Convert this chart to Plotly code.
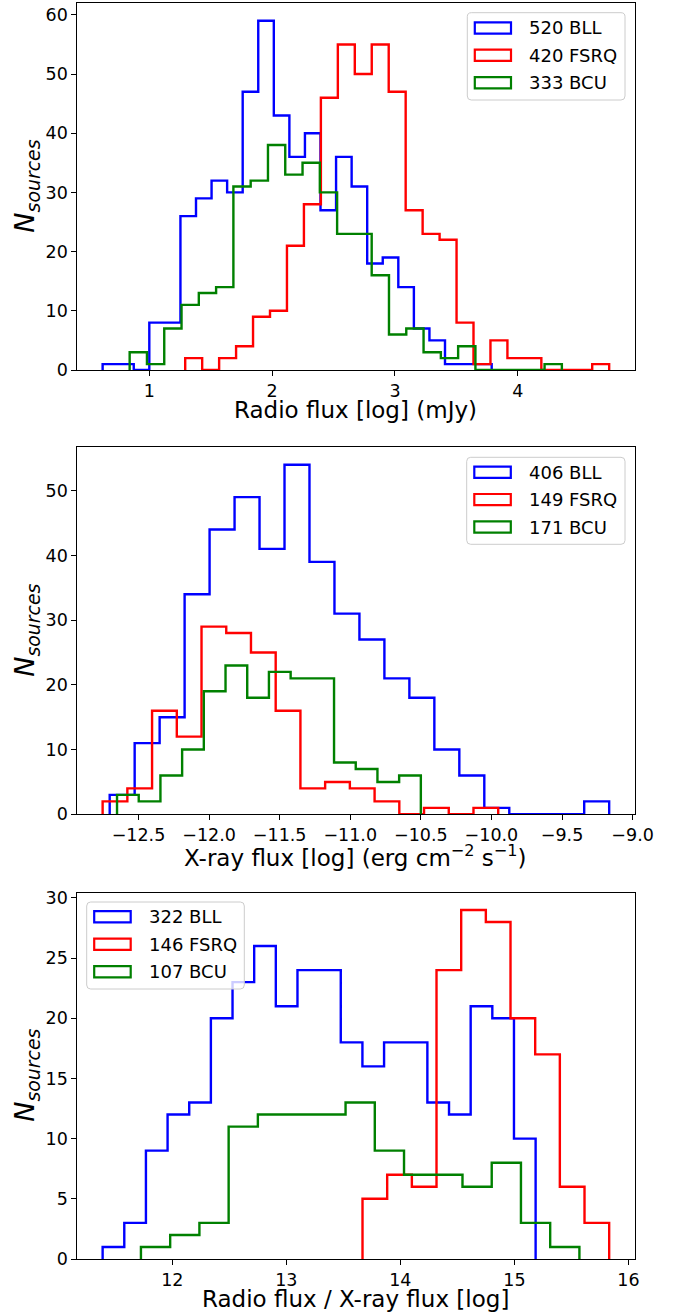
import numpy as np
import plotly.graph_objects as go

W, H = 681, 1315

# ---------------- data (counts per bin, and first/last bin edge) ----------------
series_names = ["BLL", "FSRQ", "BCU"]
series_colors = ["#0000ff", "#ff0000", "#008000"]

# Panel 1: radio flux
radio_bll_counts = [1, 1, 0, 8, 8, 26, 29, 32, 30, 47, 59, 43, 36, 40, 27, 36, 31, 18, 19, 14, 7, 5, 1, 1, 1]
radio_bll_range = (0.621, 3.787)
radio_fsrq_counts = [2, 0, 2, 4, 9, 10, 21, 28, 46, 55, 50, 55, 47, 27, 23, 22, 8, 1, 5, 2, 2, 0, 0, 0, 1]
radio_fsrq_range = (1.293, 4.743)
radio_bcu_counts = [3, 1, 7, 11, 13, 14, 31, 32, 38, 33, 35, 30, 23, 23, 16, 6, 7, 3, 2, 4, 0, 0, 0, 0, 1]
radio_bcu_range = (0.841, 4.358)
radio_legend = ["520 BLL", "420 FSRQ", "333 BCU"]

# Panel 2: X-ray flux
xray_bll_counts = [3, 11, 15, 34, 44, 49, 41, 54, 39, 31, 27, 21, 18, 10, 6, 1, 0, 0, 0, 2]
xray_bll_range = (-12.704, -9.166)
xray_fsrq_counts = [2, 4, 16, 12, 29, 28, 25, 16, 4, 5, 4, 2, 0, 1, 0, 1]
xray_fsrq_range = (-12.754, -9.952)
xray_bcu_counts = [3, 2, 6, 10, 19, 23, 18, 22, 21, 21, 8, 7, 5, 6]
xray_bcu_range = (-12.652, -10.500)
xray_legend = ["406 BLL", "149 FSRQ", "171 BCU"]

# Panel 3: radio / X-ray ratio
ratio_bll_counts = [1, 3, 9, 12, 13, 20, 23, 26, 21, 24, 24, 18, 16, 18, 18, 13, 12, 21, 20, 10]
ratio_bll_range = (11.389, 15.186)
ratio_fsrq_counts = [5, 7, 6, 24, 29, 28, 20, 17, 6, 3]
ratio_fsrq_range = (13.668, 15.831)
ratio_bcu_counts = [1, 2, 3, 11, 12, 12, 12, 13, 9, 7, 7, 6, 8, 3, 1]
ratio_bcu_range = (11.725, 15.570)
ratio_legend = ["322 BLL", "146 FSRQ", "107 BCU"]

x_titles = ["Radio flux [log] (mJy)",
            "X-ray flux [log] (erg cm<sup>\u22122</sup> s<sup>\u22121</sup>)",
            "Radio flux / X-ray flux [log]"]
y_title = "<i>N</i><sub><i>sources</i></sub>"

# ---------------- layout geometry (pixels) ----------------
FONT = "DejaVu Sans"
AX_L, AX_R = 77.3, 634.5
panels_px = [(3.3, 370.0), (447.3, 814.3), (892.5, 1259.0)]  # (top, bottom)
x_title_offset = [40.0, 41.5, 40.0]
x_dticks = [1, 0.5, 1]
x_formats = ["d", ".1f", "d"]
y_dticks = [10, 10, 5]
legend_px = [
    dict(box=(467.3, 12.7, 625.0, 100.0), patch_x=(474.8, 511.0), text_x=527.3, rows=(28.0, 55.3, 82.7)),
    dict(box=(466.7, 457.3, 625.0, 544.3), patch_x=(474.3, 510.8), text_x=527.3, rows=(472.3, 499.6, 527.0)),
    dict(box=(86.7, 902.0, 244.3, 989.0), patch_x=(94.2, 130.7), text_x=146.7, rows=(916.7, 944.2, 971.7)),
]


def px(xp):
    return xp / W


def py(yp):
    return 1 - yp / H


panels = [
    ([radio_bll_counts, radio_fsrq_counts, radio_bcu_counts],
     [radio_bll_range, radio_fsrq_range, radio_bcu_range], radio_legend),
    ([xray_bll_counts, xray_fsrq_counts, xray_bcu_counts],
     [xray_bll_range, xray_fsrq_range, xray_bcu_range], xray_legend),
    ([ratio_bll_counts, ratio_fsrq_counts, ratio_bcu_counts],
     [ratio_bll_range, ratio_fsrq_range, ratio_bcu_range], ratio_legend),
]

fig = go.Figure()
shapes = []
annotations = []

for i, (counts_list, ranges, legend_labels) in enumerate(panels):
    xa = "x" if i == 0 else f"x{i+1}"
    ya = "y" if i == 0 else f"y{i+1}"
    for counts, (lo, hi), color in zip(counts_list, ranges, series_colors):
        edges = np.linspace(lo, hi, len(counts) + 1)
        xs = [edges[0]] + list(edges)
        ys = [0] + list(counts) + [0]
        fig.add_trace(go.Scatter(x=xs, y=ys, mode="lines", line_shape="hv",
                                 line=dict(color=color, width=2.4),
                                 xaxis=xa, yaxis=ya, showlegend=False, hoverinfo="skip"))
    xmin = min(r[0] for r in ranges)
    xmax = max(r[1] for r in ranges)
    pad = 0.05 * (xmax - xmin)
    ymax = 1.05 * max(max(c) for c in counts_list)
    top, bot = panels_px[i]
    axis_common = dict(showline=True, mirror=True, linecolor="black", linewidth=1,
                       ticks="outside", ticklen=5, tickwidth=1, tickcolor="black",
                       showgrid=False, zeroline=False,
                       tickfont=dict(family=FONT, size=17.5, color="black"))
    fig.update_layout(**{
        ("xaxis" if i == 0 else f"xaxis{i+1}"): dict(
            domain=[px(AX_L), px(AX_R)], anchor=ya, range=[xmin - pad, xmax + pad],
            dtick=x_dticks[i], tick0=0, tickformat=x_formats[i], **axis_common),
        ("yaxis" if i == 0 else f"yaxis{i+1}"): dict(
            domain=[py(bot), py(top)], anchor=xa, range=[0, ymax],
            dtick=y_dticks[i], tick0=0, **axis_common),
    })
    # axis titles
    annotations.append(dict(text=x_titles[i], x=px((AX_L + AX_R) / 2), y=py(bot + x_title_offset[i]),
                            xref="paper", yref="paper", xanchor="center", yanchor="middle",
                            showarrow=False, font=dict(family=FONT, size=23, color="black")))
    annotations.append(dict(text=y_title, x=px(27), y=py((top + bot) / 2),
                            xref="paper", yref="paper", xanchor="center", yanchor="middle",
                            textangle=-90, showarrow=False,
                            font=dict(family=FONT, size=27, color="black")))
    # legend box
    lg = legend_px[i]
    x0, y0, x1, y1 = lg["box"]
    r = 4.0
    X0, X1 = px(x0), px(x1)
    Yt, Yb = py(y0), py(y1)
    rx, ry = r / W, r / H
    path = (f"M{X0+rx},{Yt} L{X1-rx},{Yt} Q{X1},{Yt} {X1},{Yt-ry} "
            f"L{X1},{Yb+ry} Q{X1},{Yb} {X1-rx},{Yb} L{X0+rx},{Yb} Q{X0},{Yb} {X0},{Yb+ry} "
            f"L{X0},{Yt-ry} Q{X0},{Yt} {X0+rx},{Yt} Z")
    shapes.append(dict(type="path", path=path, xref="paper", yref="paper", layer="above",
                       fillcolor="rgba(255,255,255,0.8)", line=dict(color="#cccccc", width=1)))
    for rowy, label, color in zip(lg["rows"], legend_labels, series_colors):
        shapes.append(dict(type="rect", xref="paper", yref="paper", layer="above",
                           x0=px(lg["patch_x"][0]), x1=px(lg["patch_x"][1]),
                           y0=py(rowy + 5.6), y1=py(rowy - 5.6),
                           line=dict(color=color, width=2.2), fillcolor="rgba(0,0,0,0)"))
        annotations.append(dict(text=label, x=px(lg["text_x"]), y=py(rowy),
                                xref="paper", yref="paper", xanchor="left", yanchor="middle",
                                showarrow=False, font=dict(family=FONT, size=18, color="black")))

fig.update_layout(width=W, height=H, autosize=False, margin=dict(l=0, r=0, t=0, b=0, autoexpand=False),
                  paper_bgcolor="white", plot_bgcolor="white",
                  shapes=shapes, annotations=annotations, showlegend=False,
                  font=dict(family=FONT, color="black"))

fig.write_html("out.html", config={"displayModeBar": False, "responsive": False},
               default_width=f"{W}px", default_height=f"{H}px",
               post_script="document.body.style.margin='0';document.body.style.padding='0';"
                           "document.documentElement.style.overflow='hidden';")
